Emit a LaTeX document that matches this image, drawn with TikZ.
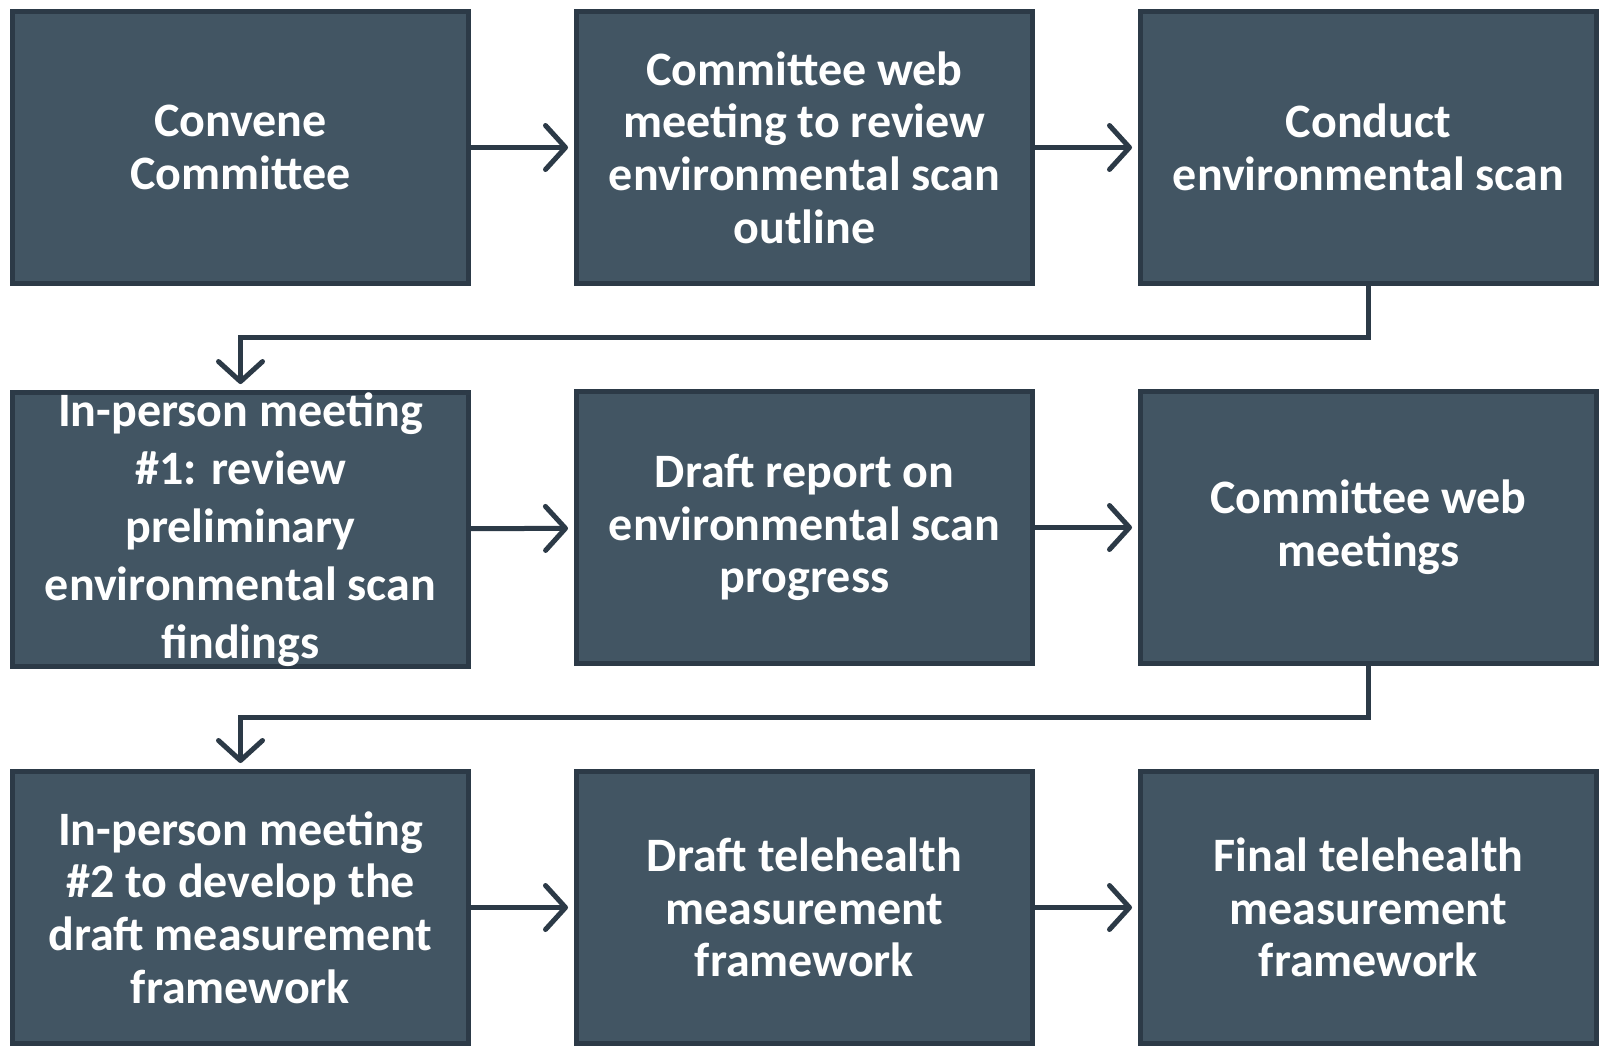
\documentclass[tikz,border=0pt]{standalone}
\usepackage{fontspec}
\setmainfont{Carlito}
\usetikzlibrary{arrows.meta}

\definecolor{boxfill}{HTML}{425563}
\definecolor{boxline}{HTML}{2C3A47}

\begin{document}
\begin{tikzpicture}[x=1pt,y=-1pt,
    step box/.style={rectangle,fill=boxfill,draw=boxline,line width=5pt,
      minimum width=456pt,minimum height=272pt,inner sep=0pt,
      text=white,align=center,font=\bfseries\fontsize{48}{52.6}\selectfont},
    flow/.style={draw=boxline,line width=5pt,
      -{Straight Barb[length=20pt,width=44pt,line cap=round,line join=round]},
      shorten >=6pt}]
      \useasboundingbox (0,0) rectangle (1602,1046);
      \draw
        (240.5, 147.5) node[step box] (0){Convene\\Committee}
        (804.5, 147.5) node[step box] (1){Committee web\\meeting to review\\environmental scan\\outline}
        (1368.5, 147.5) node[step box] (2){Conduct\\environmental scan}
        (240.5, 529.5) node[step box,font=\bfseries\fontsize{48}{58}\selectfont] (3){In-person meeting\\\#1: review\\preliminary\\environmental scan\\findings}
        (804.5, 527.5) node[step box] (4){Draft report on\\environmental scan\\progress}
        (1368.5, 527.5) node[step box] (5){Committee web\\meetings}
        (240.5, 907.5) node[step box] (6){In-person meeting\\\#2 to develop the\\draft measurement\\framework}
        (804.5, 907.5) node[step box] (7){Draft telehealth\\measurement\\framework}
        (1368.5, 907.5) node[step box] (8){Final telehealth\\measurement\\framework};
      \begin{scope}[flow]
        \draw (0) -- (1);
        \draw (1) -- (2);
        \draw (2.south) -- ++(0,51) -| (3.north);
        \draw (3) -- (4);
        \draw (4) -- (5);
        \draw (5.south) -- ++(0,51) -| (6.north);
        \draw (6) -- (7);
        \draw (7) -- (8);
      \end{scope}
    \end{tikzpicture}
\end{document}
